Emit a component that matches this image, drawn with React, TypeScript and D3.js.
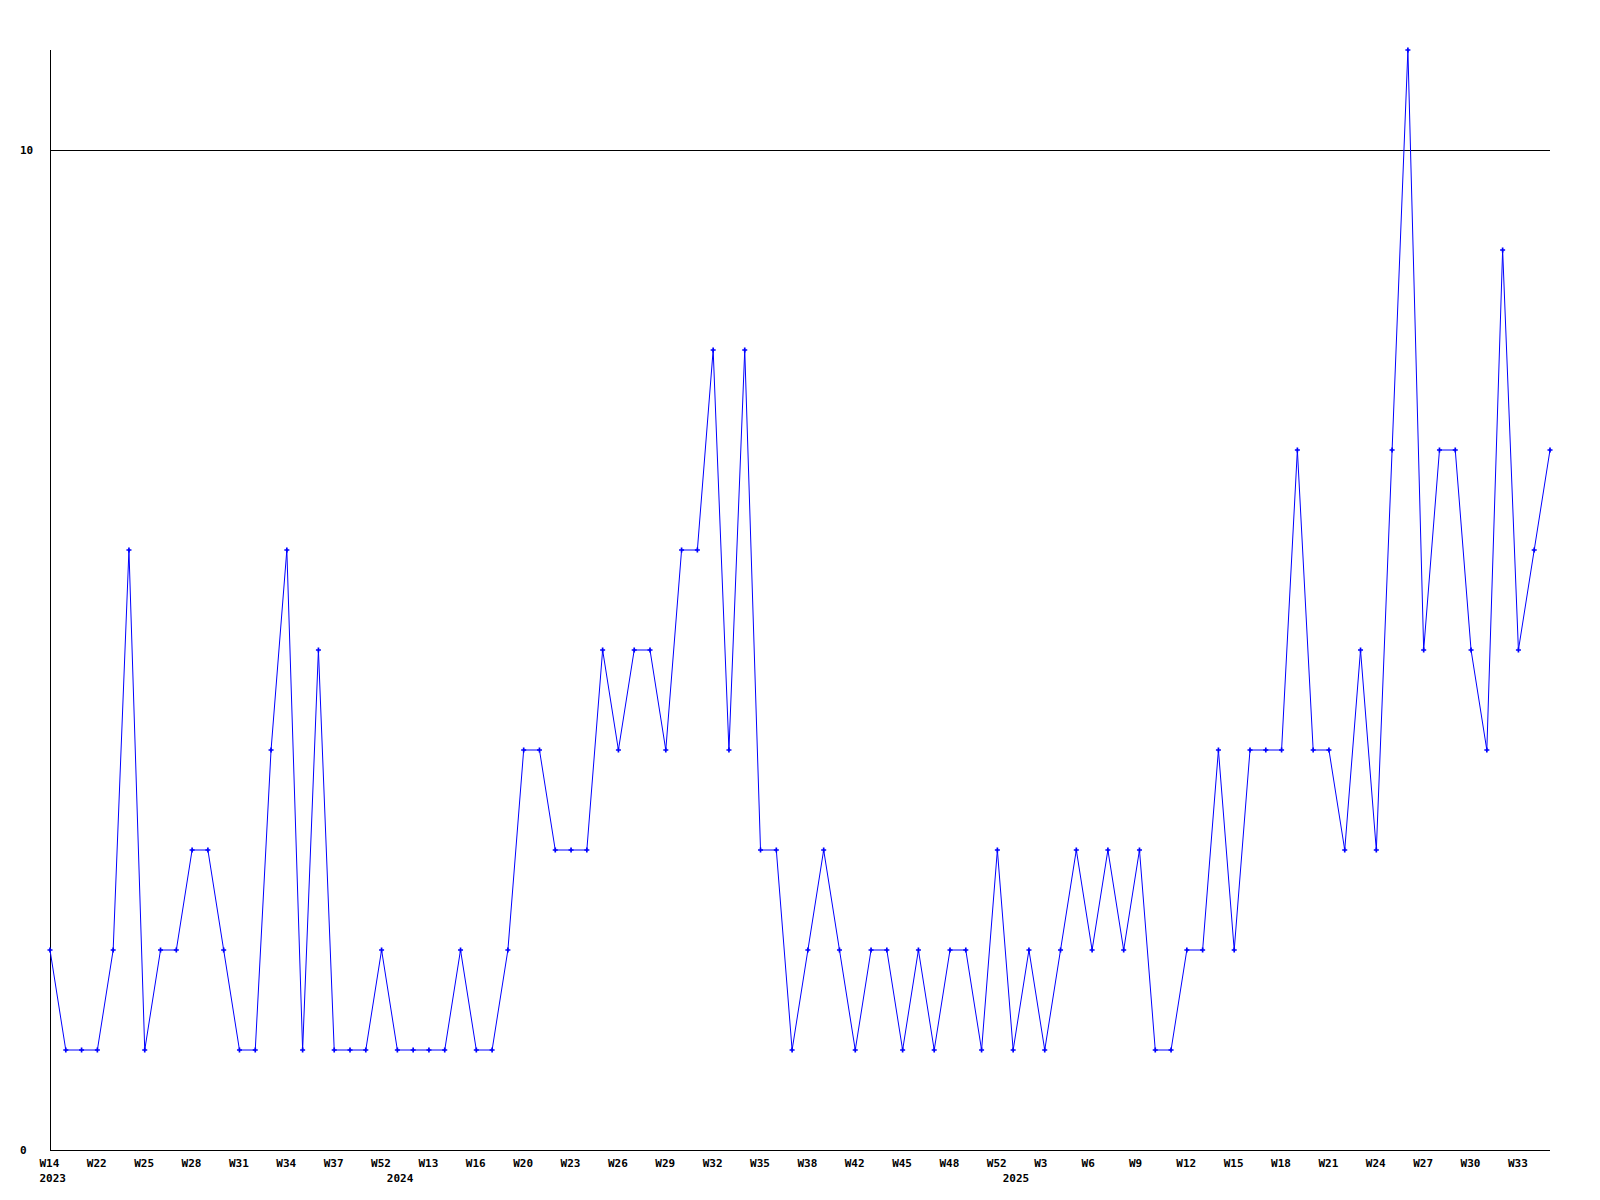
import React from "react";
import * as d3 from "d3";

const values: number[] = [
  2, 1, 1, 1, 2, 6, 1, 2, 2, 3, 3, 2, 1, 1, 4, 6, 1, 5, 1, 1,
  1, 2, 1, 1, 1, 1, 2, 1, 1, 2, 4, 4, 3, 3, 3, 5, 4, 5, 5, 4,
  6, 6, 8, 4, 8, 3, 3, 1, 2, 3, 2, 1, 2, 2, 1, 2, 1, 2, 2, 1,
  3, 1, 2, 1, 2, 3, 2, 3, 2, 3, 1, 1, 2, 2, 4, 2, 4, 4, 4, 7,
  4, 4, 3, 5, 3, 7, 11, 5, 7, 7, 5, 4, 9, 5, 6, 7,
];

const tickLabels: string[] = [
  "W14", "W22", "W25", "W28", "W31", "W34", "W37", "W52", "W13", "W16",
  "W20", "W23", "W26", "W29", "W32", "W35", "W38", "W42", "W45", "W48",
  "W52", "W3", "W6", "W9", "W12", "W15", "W18", "W21", "W24", "W27",
  "W30", "W33",
];
const tickEvery = 3;

const yearLabels: string[] = ["2023", "2024", "2025"];
const yearStartIndex: number[] = [0, 22, 61];

const yTicks: number[] = [0, 10];

const W = 1600;
const H = 1200;
const left = 50;
const right = 1550;
const top = 50;
const bottom = 1150;
const font = "'DejaVu Sans Mono', monospace";

export default function App() {
  const x = d3.scaleLinear().domain([0, values.length - 1]).range([left, right]);
  const y = d3.scaleLinear().domain([0, 11]).range([bottom, top]);
  const line = d3
    .line<number>()
    .x((_, i) => x(i))
    .y((d) => y(d));
  const marker = d3.symbol(d3.symbolCross, 14)() as string;

  return (
    <svg
      width={W}
      height={H}
      style={{ position: "absolute", left: 0, top: 0, background: "#fff" }}
    >
      <rect x={0} y={0} width={W} height={H} fill="#fff" />
      {/* y axis */}
      <line x1={left + 0.5} x2={left + 0.5} y1={top} y2={bottom} stroke="#000" strokeWidth={1} />
      {/* bottom axis */}
      <line x1={left} x2={right} y1={bottom + 0.5} y2={bottom + 0.5} stroke="#000" strokeWidth={1} />
      {yTicks.map((t) => (
        <g key={t}>
          {t !== 0 && (
            <line
              x1={left}
              x2={right}
              y1={Math.round(y(t)) + 0.5}
              y2={Math.round(y(t)) + 0.5}
              stroke="#000"
              strokeWidth={1}
            />
          )}
          <text
            x={20}
            y={y(t) + 4}
            fontFamily={font}
            fontWeight="bold"
            fontSize={11}
            fill="#000"
          >
            {t}
          </text>
        </g>
      ))}
      {tickLabels.map((lab, k) => (
        <text
          key={k}
          x={x(k * tickEvery) - 10.5}
          y={bottom + 17}
          fontFamily={font}
          fontWeight="bold"
          fontSize={11}
          fill="#000"
        >
          {lab}
        </text>
      ))}
      {yearLabels.map((lab, k) => (
        <text
          key={lab}
          x={x(yearStartIndex[k]) - 10.5}
          y={bottom + 32}
          fontFamily={font}
          fontWeight="bold"
          fontSize={11}
          fill="#000"
        >
          {lab}
        </text>
      ))}
      <path d={line(values) as string} fill="none" stroke="#0000ff" strokeWidth={1} />
      {values.map((v, i) => (
        <path
          key={i}
          d={marker}
          transform={`translate(${x(i)},${y(v)})`}
          fill="#0000ff"
        />
      ))}
    </svg>
  );
}
